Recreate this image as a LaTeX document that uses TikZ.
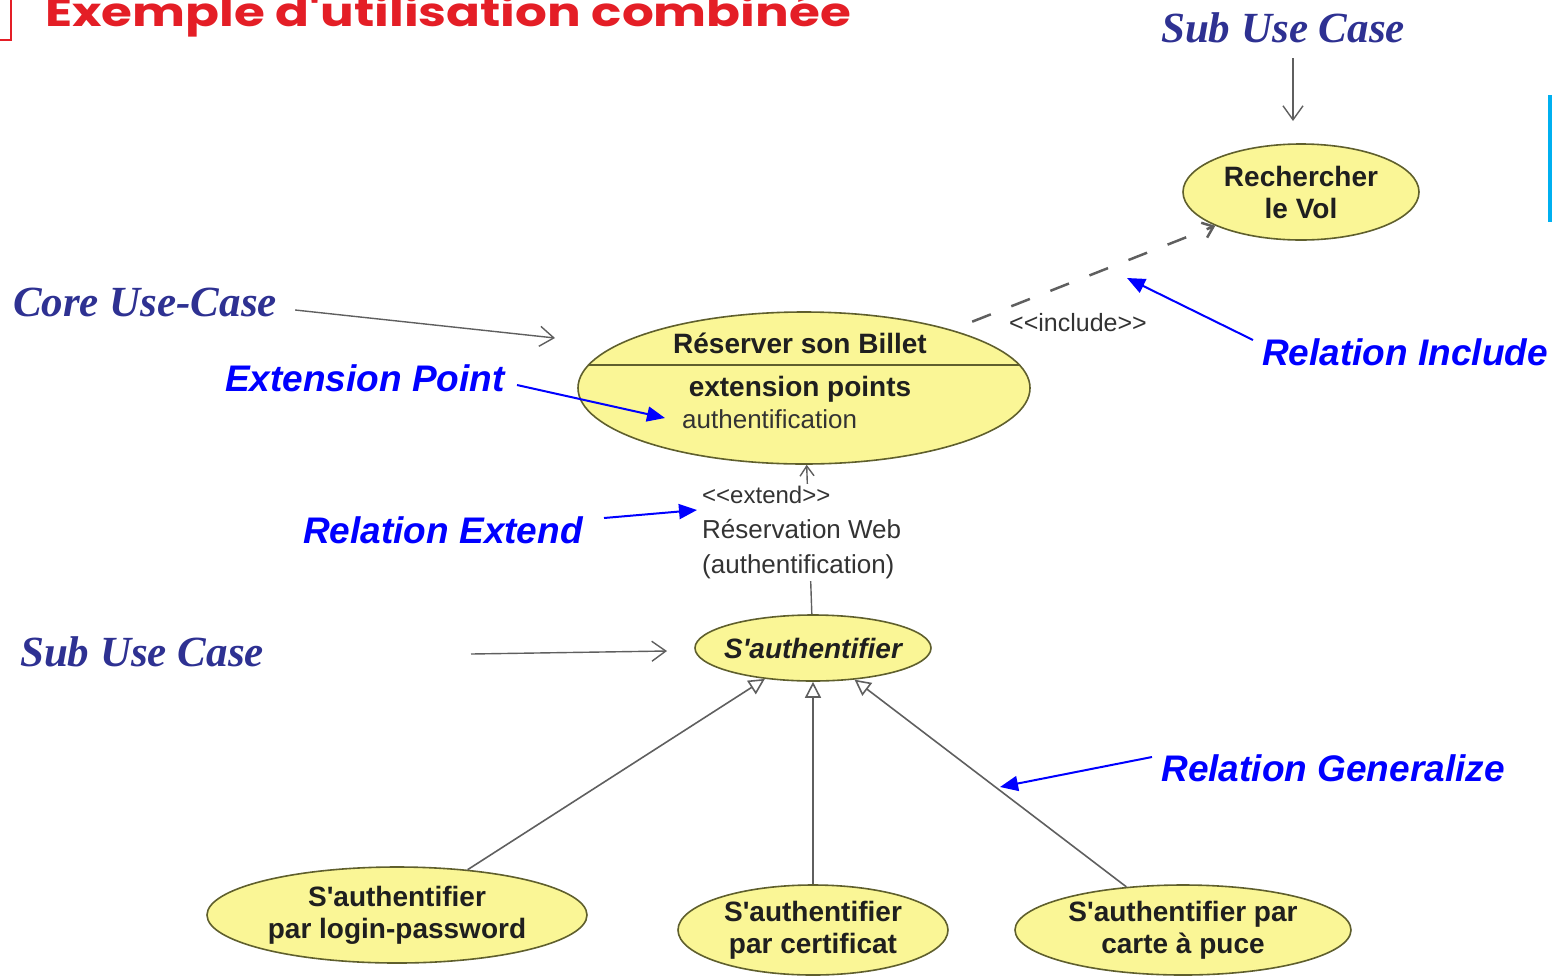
\documentclass[tikz,border=0pt]{standalone}
\usepackage{fontspec}
\setmainfont{Liberation Sans}[Ligatures=TeXOff]
\newfontfamily\titlefont{Poppins}
\newfontfamily\serifbi{Liberation Serif}
\usetikzlibrary{shapes.geometric,arrows.meta,calc}
\definecolor{ucfill}{RGB}{250,246,150}
\definecolor{ucborder}{RGB}{95,95,45}
\definecolor{notecol}{RGB}{46,49,146}
\definecolor{relblue}{RGB}{0,0,255}
\definecolor{titlered}{RGB}{228,30,38}
\definecolor{conngray}{RGB}{95,95,95}
\definecolor{cyanbar}{RGB}{0,176,240}
\tikzset{
  uc/.style={ellipse, draw=ucborder, fill=ucfill, line width=1.6pt, inner sep=0pt},
  uctext/.style={font=\bfseries\fontsize{28}{32}\selectfont, align=center, text=black!88, inner sep=0pt},
  plaintext/.style={font=\fontsize{26}{35}\selectfont, text=black!80, inner sep=0pt},
  note/.style={font=\serifbi\bfseries\itshape\fontsize{43}{50}\selectfont, text=notecol, inner sep=2pt},
  rel/.style={font=\bfseries\itshape\fontsize{37}{44}\selectfont, text=relblue, inner sep=2pt},
  grayarr/.style={draw=conngray, line width=1.4pt, -{Straight Barb[length=14pt,width=20pt]}},
  bluearr/.style={draw=relblue, line width=2pt, -{Triangle[length=18pt,width=15pt]}},
  incl/.style={draw=conngray, line width=2.5pt, dash pattern=on 20pt off 22pt, shorten <=22pt, -{Straight Barb[length=10pt,width=16pt]}},
  ext/.style={draw=conngray, line width=1.4pt, -{Straight Barb[length=10pt,width=14pt]}},
  gen/.style={draw=conngray, line width=1.6pt, -{Triangle[open,length=16pt,width=16pt]}}
}
\begin{document}
\begin{tikzpicture}[x=1pt,y=-1pt]
\useasboundingbox (0,0) rectangle (1553,978);
% title
\node[font=\titlefont\bfseries\fontsize{40}{48}\selectfont, text=titlered, anchor=base west, inner sep=0pt] (title) at (45,26) {\scalebox{1.25}[1]{Exemple d'utilisation combinée}};
\draw[titlered, line width=2.5pt] (11,0) -- (11,40) -- (0,40);
\draw[cyanbar, line width=3.5pt] (1550,95) -- (1550,222);

% use cases
\node[uc, minimum width=236pt, minimum height=96pt, label={[uctext]center:Rechercher\\le Vol}] (rech) at (1301,192) {};
\node[uc, minimum width=452pt, minimum height=152pt] (res) at (804,388) {};
\draw[ucborder, line width=1.6pt] ($(res.center)+(-215,-23)$) -- ($(res.center)+(215,-23)$);
\node[uctext] (restitle) at (800,343) {Réserver son Billet};
\node[uctext] (extpts) at (800,389) {extension points};
\node[plaintext, anchor=base west] (authpt) at (682,428) {authentification};
\node[uc, minimum width=236pt, minimum height=66pt, label={[uctext, font=\bfseries\itshape\fontsize{28}{32}\selectfont]center:S'authentifier}] (auth) at (813,648) {};
\node[uc, minimum width=380pt, minimum height=96pt, label={[uctext]center:S'authentifier\\par login-password}] (login) at (397,915) {};
\node[uc, minimum width=270pt, minimum height=90pt, label={[uctext]center:S'authentifier\\par certificat}] (cert) at (813,930) {};
\node[uc, minimum width=336pt, minimum height=90pt, label={[uctext]center:S'authentifier par\\carte à puce}] (carte) at (1183,930) {};

% relations
\draw[incl] (res) -- (rech);
\node[plaintext, font=\fontsize{25}{28}\selectfont] (incllbl) at (1078,323) {<<include>>};
\draw[ext] (auth) -- (res);
\node[plaintext, align=left, anchor=north west, fill=white, inner sep=2pt] (extlbl) at (700,484) {\fontsize{24}{29}\selectfont <<extend>>\\Réservation Web\\(authentification)};
\draw[gen] (login) -- (auth);
\draw[gen] (cert) -- (auth);
\draw[gen] (carte) -- (auth);

% annotations
\node[note] (subtop) at (1283,28) {Sub Use Case};
\coordinate (subtopTip) at (1293,121);
\draw[grayarr] (1293,58) -- (subtopTip);
\node[note] (core) at (145,302) {Core Use-Case};
\coordinate (coreTip) at (555,338);
\draw[grayarr] ($(core.east)+(16,8)$) -- (coreTip);
\node[note] (subleft) at (142,652) {Sub Use Case};
\coordinate (subleftTip) at (667,651);
\draw[grayarr] (471,654) -- (subleftTip);

\node[rel] (relinc) at (1405,352) {Relation Include};
\coordinate (relincTip) at (1127,278);
\draw[bluearr] (1253,340) -- (relincTip);
\node[rel] (extpt) at (365,378) {Extension Point};
\coordinate (extptTip) at (665,418);
\draw[bluearr] (517,385) -- (extptTip);
\node[rel] (relext) at (443,530) {Relation Extend};
\coordinate (relextTip) at (697,510);
\draw[bluearr] (604,518) -- (relextTip);
\node[rel] (relgen) at (1333,768) {Relation Generalize};
\coordinate (relgenTip) at (1000,787);
\draw[bluearr] (1152,757) -- (relgenTip);
\end{tikzpicture}
\end{document}
